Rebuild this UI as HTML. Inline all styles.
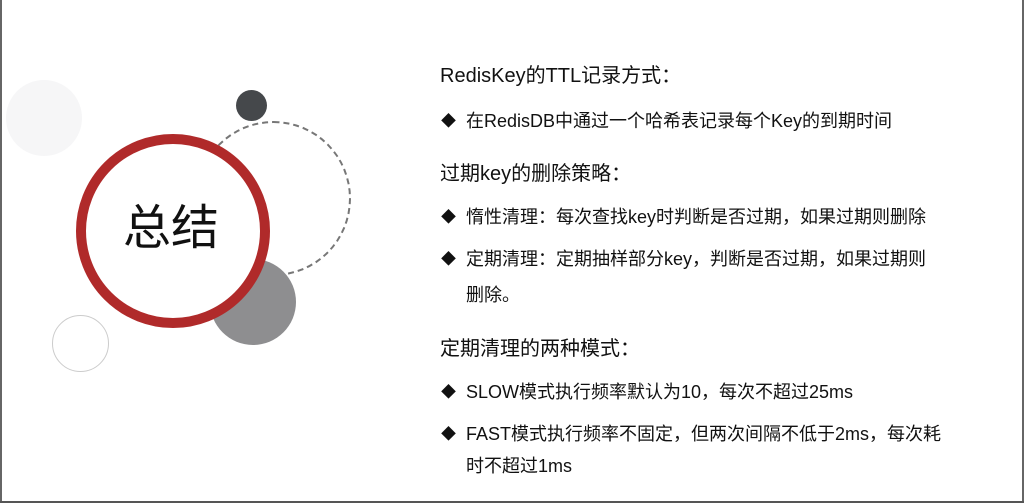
<!DOCTYPE html>
<html><head><meta charset="utf-8"><style>
body{margin:0;width:1024px;height:503px;background:#fff;position:relative;overflow:hidden;font-family:"Liberation Sans","Noto Sans CJK SC",sans-serif;color:#111}
.c{position:absolute;border-radius:50%;box-sizing:border-box}
.t{position:absolute;white-space:nowrap;line-height:1}
.h{font-size:20px;left:440px}
.b{font-size:18px;left:466px}
.d{position:absolute;left:441px;font-size:15px}
</style></head><body>
<div style="position:absolute;left:0;top:0;width:2px;height:503px;background:#666"></div>
<div style="position:absolute;right:0;top:0;width:2px;height:503px;background:#666"></div>
<div style="position:absolute;left:0;bottom:0;width:1024px;height:2px;background:#555"></div>
<div class="c" style="left:6px;top:80px;width:76px;height:76px;background:#f6f6f7"></div>
<div class="c" style="left:236px;top:90px;width:31px;height:31px;background:#45484b"></div>
<div class="c" style="left:196px;top:121px;width:155px;height:155px;border:2px dashed #777"></div>
<div class="c" style="left:210px;top:259px;width:86px;height:86px;background:#8e8e90"></div>
<div class="c" style="left:52px;top:315px;width:57px;height:57px;border:1.5px solid #ccc"></div>
<div class="c" style="left:76px;top:134px;width:194px;height:194px;background:#fff;border:10px solid #b02a2a"></div>
<div class="t" style="left:123px;top:205px;font-size:48px">总结</div>

<div class="t h" style="top:66px">RedisKey的TTL记录方式：</div>
<div class="t d" style="top:114px">◆</div><div class="t b" style="top:112px">在RedisDB中通过一个哈希表记录每个Key的到期时间</div>
<div class="t h" style="top:164px">过期key的删除策略：</div>
<div class="t d" style="top:210px">◆</div><div class="t b" style="top:208px">惰性清理：每次查找key时判断是否过期，如果过期则删除</div>
<div class="t d" style="top:252px">◆</div><div class="t b" style="top:250px">定期清理：定期抽样部分key，判断是否过期，如果过期则</div>
<div class="t b" style="top:286px">删除。</div>
<div class="t h" style="top:339px">定期清理的两种模式：</div>
<div class="t d" style="top:385px">◆</div><div class="t b" style="top:383px">SLOW模式执行频率默认为10，每次不超过25ms</div>
<div class="t d" style="top:427px">◆</div><div class="t b" style="top:425px">FAST模式执行频率不固定，但两次间隔不低于2ms，每次耗</div>
<div class="t b" style="top:457px">时不超过1ms</div>
</body></html>
